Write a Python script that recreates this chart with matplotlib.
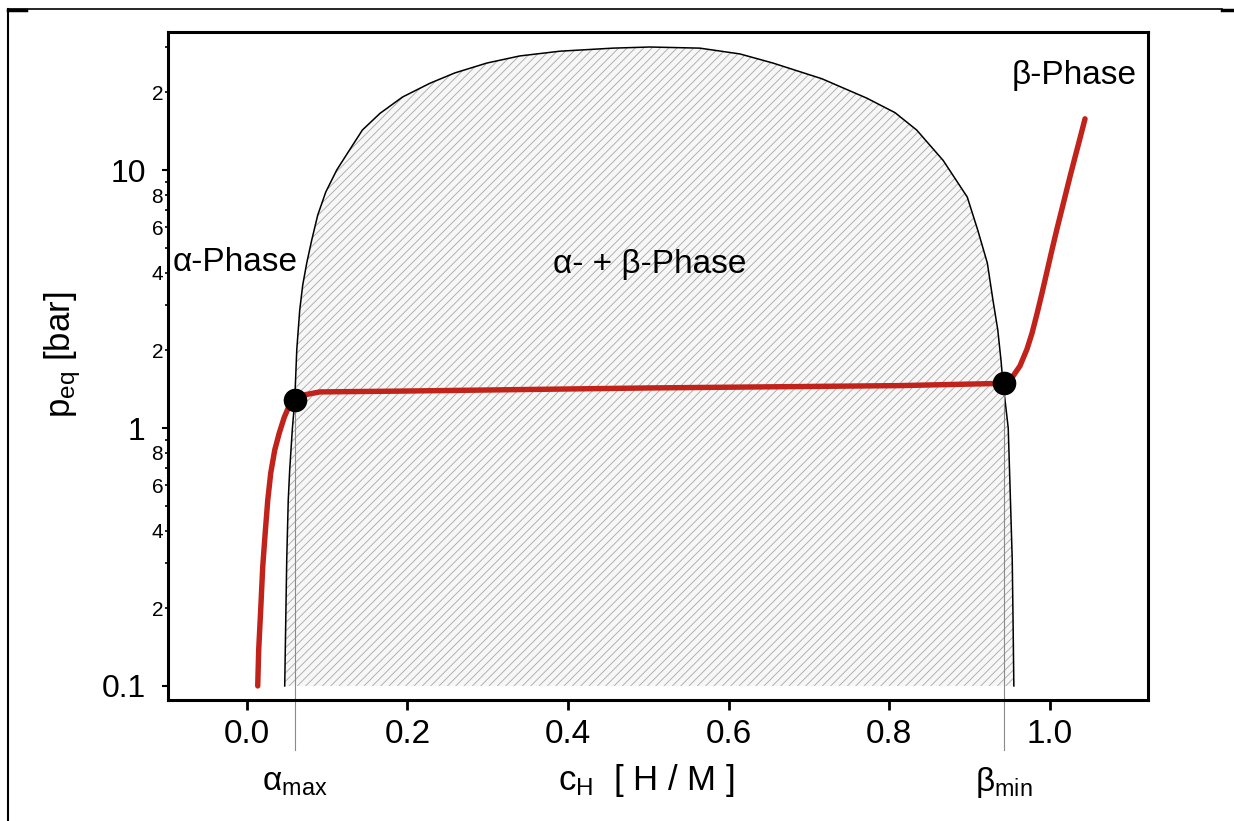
import matplotlib
matplotlib.use('Agg')
import matplotlib.pyplot as plt
import numpy as np
from matplotlib.lines import Line2D
from matplotlib.ticker import FixedLocator, FixedFormatter

plt.rcParams['font.family'] = ['Liberation Sans', 'DejaVu Sans']
plt.rcParams['mathtext.fontset'] = 'custom'
plt.rcParams['mathtext.rm'] = 'Liberation Sans'
plt.rcParams['mathtext.it'] = 'Liberation Sans:italic'
plt.rcParams['hatch.linewidth'] = 0.6

# ---------------- data ----------------
dome_left_c = [0.0473, 0.0486, 0.0498, 0.0517, 0.0535, 0.0567, 0.0598, 0.0623,
               0.0660, 0.0697, 0.0747, 0.0809, 0.0884, 0.0984, 0.112, 0.126,
               0.144, 0.166, 0.194, 0.228, 0.259, 0.299, 0.340, 0.390, 0.456,
               0.502]
dome_left_p = [0.100, 0.180, 0.308, 0.526, 0.688, 0.982, 1.284, 2.01,
               2.87, 3.58, 4.36, 5.35, 6.69, 8.22, 10.0, 11.7,
               14.3, 16.6, 19.2, 21.7, 23.8, 26.0, 27.7, 28.9, 29.7,
               30.0]
dome_right_c = [0.564, 0.614, 0.655, 0.716, 0.772, 0.807, 0.834, 0.867,
                0.897, 0.910, 0.922, 0.929, 0.935, 0.939, 0.9415, 0.944,
                0.948, 0.950, 0.953, 0.954, 0.955]
dome_right_p = [29.7, 28.2, 26.0, 22.6, 19.0, 16.7, 14.3, 10.9,
                7.86, 5.86, 4.36, 3.13, 2.40, 1.83, 1.49, 1.284,
                1.00, 0.629, 0.308, 0.180, 0.100]

alpha_c = [0.0137, 0.0149, 0.0174, 0.0199, 0.0230, 0.0262, 0.0299, 0.0349,
           0.0405, 0.0467, 0.0529, 0.0598]
alpha_p = [0.100, 0.138, 0.197, 0.289, 0.392, 0.526, 0.669, 0.822,
           0.956, 1.10, 1.22, 1.284]
plateau_c = [0.0598, 0.0697, 0.0909, 0.1905, 0.502, 0.813, 0.943]
plateau_p = [1.284, 1.34, 1.38, 1.39, 1.43, 1.46, 1.49]
beta_c = [0.943, 0.954, 0.9626, 0.9713, 0.9776, 0.9838, 0.990, 0.9963,
          1.0025, 1.0087, 1.0162, 1.0249, 1.0311, 1.0374, 1.0436]
beta_p = [1.49, 1.59, 1.74, 2.02, 2.33, 2.77, 3.33, 4.05,
          4.91, 5.92, 7.34, 9.43, 11.2, 13.3, 15.8]

alpha_max_c, alpha_max_p = 0.0598, 1.284
beta_min_c, beta_min_p = 0.943, 1.49

x_ticks = [0.0, 0.2, 0.4, 0.6, 0.8, 1.0]
x_labels = ['0.0', '0.2', '0.4', '0.6', '0.8', '1.0']
y_major = [0.1, 1, 10]
y_major_labels = ['0.1', '1', '10']
y_minor = [0.2, 0.3, 0.4, 0.5, 0.6, 0.7, 0.8, 0.9,
           2, 3, 4, 5, 6, 7, 8, 9, 20, 30]
y_minor_labels = ['2', '', '4', '', '6', '', '8', '',
                  '2', '', '4', '', '6', '', '8', '', '2', '']

RED = '#c1221a'

# ---------------- figure ----------------
W, H = 1234, 821
fig = plt.figure(figsize=(W / 100, H / 100), dpi=100)
ax = fig.add_axes([168 / W, 1 - 700 / H, (1148 - 168) / W, (700 - 32) / H])
ax.set_yscale('log')
ax.set_xlim(-0.098, 1.122)
ax.set_ylim(0.0882, 34.3)

dome_c = dome_left_c + dome_right_c
dome_p = dome_left_p + dome_right_p
ax.fill(dome_c, dome_p, facecolor='#f7f7f7', edgecolor='#a6a6a6',
        hatch='////', linewidth=0, zorder=1)
ax.plot(dome_c, dome_p, color='black', lw=1.1, zorder=2,
        solid_joinstyle='round')

# thin grey guide lines from the points down below the axis
ybot = 10 ** (np.log10(0.0882) - 0.075 * (np.log10(34.3) - np.log10(0.0882)))
for c, p in [(alpha_max_c, alpha_max_p), (beta_min_c, beta_min_p)]:
    ax.plot([c, c], [p, ybot], color='#8a8a8a', lw=0.8, zorder=2, clip_on=False)

# red isotherm
red_c = alpha_c + plateau_c[1:] + beta_c[1:]
red_p = alpha_p + plateau_p[1:] + beta_p[1:]
ax.plot(red_c, red_p, color=RED, lw=3.9, zorder=3, solid_capstyle='round',
        solid_joinstyle='round')
ax.plot([alpha_max_c, beta_min_c], [alpha_max_p, beta_min_p], 'o',
        color='black', markersize=16, zorder=4)

# axes styling
for s in ax.spines.values():
    s.set_linewidth(2.2)
ax.xaxis.set_major_locator(FixedLocator(x_ticks))
ax.xaxis.set_major_formatter(FixedFormatter(x_labels))
ax.yaxis.set_major_locator(FixedLocator(y_major))
ax.yaxis.set_major_formatter(FixedFormatter(y_major_labels))
ax.yaxis.set_minor_locator(FixedLocator(y_minor))
ax.yaxis.set_minor_formatter(FixedFormatter(y_minor_labels))
ax.xaxis.set_minor_locator(FixedLocator([]))
ax.tick_params(axis='x', which='major', direction='out', length=7, width=2,
               labelsize=24, pad=7)
ax.tick_params(axis='y', which='major', direction='out', length=4, width=1.5,
               labelsize=23, pad=12)
ax.tick_params(axis='y', which='minor', direction='out', length=2.5, width=1.2,
               labelsize=15, pad=1)

# texts
ax.text(-0.092, 4.4, 'α-Phase', fontsize=24, ha='left', va='center')
ax.text(0.502, 4.32, 'α- + β-Phase', fontsize=24, ha='center', va='center')
ax.text(1.030, 23.2, 'β-Phase', fontsize=24, ha='center', va='center')

xt = ax.get_xaxis_transform()
ax.text(alpha_max_c, -0.124, r'α$_{\mathregular{max}}$', transform=xt,
        fontsize=24, ha='center', va='center')
ax.text(beta_min_c, -0.124, r'β$_{\mathregular{min}}$', transform=xt,
        fontsize=24, ha='center', va='center')

fig.text(646 / W, 1 - 780 / H, r'c$_{\mathregular{H}}$  [ H / M ]',
         fontsize=25, ha='center', va='center')
fig.text(63 / W, 1 - 355 / H, r'p$_{\mathregular{eq}}$ [bar]', rotation=90,
         fontsize=25, ha='center', va='center')

# outer frame fragments
tf = fig.transFigure
fig.add_artist(Line2D([8 / W, 8 / W], [0, 1 - 9 / H], transform=tf,
                      color='black', lw=1.5))
fig.add_artist(Line2D([8 / W, 1222 / W], [1 - 9 / H, 1 - 9 / H], transform=tf,
                      color='black', lw=1.2))
fig.add_artist(Line2D([8 / W, 26 / W], [1 - 10 / H, 1 - 10 / H], transform=tf,
                      color='black', lw=2.5))
fig.add_artist(Line2D([1222 / W, 1.0], [1 - 10 / H, 1 - 10 / H], transform=tf,
                      color='black', lw=2.5))

fig.savefig('out.png', dpi=100)
